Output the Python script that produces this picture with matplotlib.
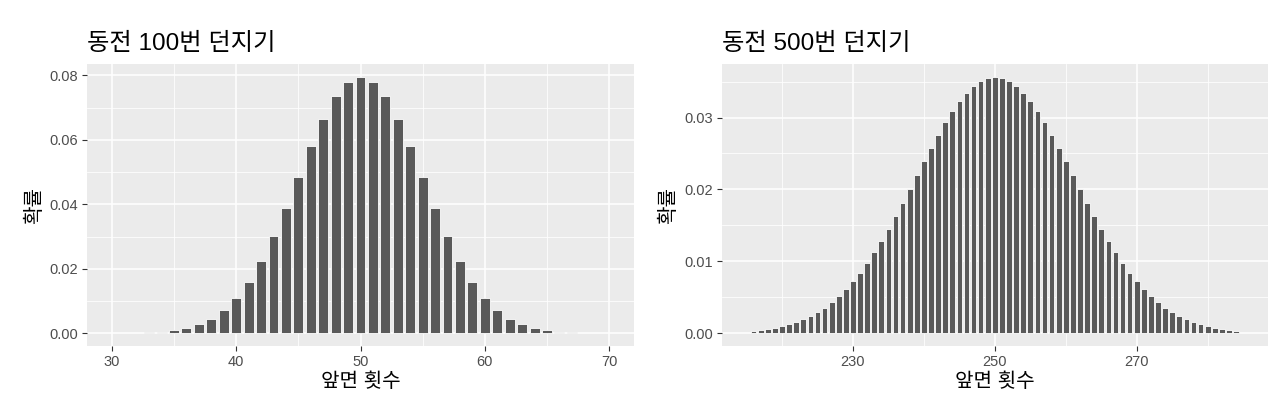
import matplotlib
matplotlib.use("Agg")
import matplotlib.pyplot as plt
from matplotlib.ticker import FixedLocator

plt.rcParams['font.family'] = ['Liberation Sans', 'Noto Sans CJK KR', 'DejaVu Sans']

# ---- data ----
heads_100 = list(range(33, 68))
prob_100 = [0.000232, 0.000458, 0.000864, 0.001560, 0.002698, 0.004472, 0.007111,
            0.010844, 0.015870, 0.022292, 0.030069, 0.038953, 0.048474, 0.057958,
            0.066590, 0.073527, 0.078029, 0.079589, 0.078029, 0.073527, 0.066590,
            0.057958, 0.048474, 0.038953, 0.030069, 0.022292, 0.015870, 0.010844,
            0.007111, 0.004472, 0.002698, 0.001560, 0.000864, 0.000458, 0.000232]

heads_500 = list(range(216, 285))
_upper_500 = [0.035664, 0.035522, 0.035099, 0.034405, 0.033457, 0.032276, 0.030889,
              0.029327, 0.027622, 0.025809, 0.023923, 0.021998, 0.020067, 0.018159,
              0.016302, 0.014518, 0.012826, 0.011241, 0.009773, 0.008429, 0.007211,
              0.006120, 0.005153, 0.004303, 0.003565, 0.002930, 0.002389, 0.001932,
              0.001550, 0.001233, 0.000973, 0.000762, 0.000592, 0.000456, 0.000348]
prob_500 = _upper_500[:0:-1] + _upper_500

titles = ["동전 100번 던지기", "동전 500번 던지기"]
xlabel = "앞면 횟수"
ylabel = "확률"

x_major = [[30, 40, 50, 60, 70], [230, 250, 270]]
x_minor = [[35, 45, 55, 65], [220, 240, 260, 280]]
y_major = [[0.00, 0.02, 0.04, 0.06, 0.08], [0.00, 0.01, 0.02, 0.03]]
y_minor = [[0.01, 0.03, 0.05, 0.07], [0.005, 0.015, 0.025, 0.035]]
x_limits = [(30, 70), (215, 285)]

# ---- figure ----
fig = plt.figure(figsize=(12.8, 4.0), dpi=100)
W, H = 1280, 400
panels = [(87, 634), (721.7, 1268)]
top, bottom = 64, 346

datasets = [(heads_100, prob_100), (heads_500, prob_500)]

for i, ((l, r), (xs, ys)) in enumerate(zip(panels, datasets)):
    ax = fig.add_axes([l / W, 1 - bottom / H, (r - l) / W, (bottom - top) / H])
    ax.set_facecolor('#EBEBEB')
    for s in ax.spines.values():
        s.set_visible(False)
    ax.bar(xs, ys, width=0.8, color='#595959', edgecolor='white', linewidth=0.6, zorder=3)

    lo, hi = x_limits[i]
    ex = 0.05 * (hi - lo)
    ax.set_xlim(lo - ex, hi + ex)
    ymax = max(ys)
    ax.set_ylim(-0.05 * ymax, ymax * 1.05)

    ax.xaxis.set_major_locator(FixedLocator(x_major[i]))
    ax.xaxis.set_minor_locator(FixedLocator(x_minor[i]))
    ax.yaxis.set_major_locator(FixedLocator(y_major[i]))
    ax.yaxis.set_minor_locator(FixedLocator(y_minor[i]))
    ax.set_xticklabels([str(v) for v in x_major[i]])
    ax.set_yticklabels([f"{v:.2f}" for v in y_major[i]])

    ax.grid(which='major', color='white', linewidth=1.1, zorder=1)
    ax.grid(which='minor', color='white', linewidth=0.55, zorder=1)
    ax.set_axisbelow(True)

    ax.tick_params(which='major', length=3.5, width=0.8, color='#333333',
                   labelsize=10.5, labelcolor='#4D4D4D', pad=3)
    ax.tick_params(which='minor', length=0)

    ax.set_xlabel(xlabel, fontsize=14.5, color='black', labelpad=2)
    ax.set_ylabel(ylabel, fontsize=14.5, color='black', labelpad=4)
    ax.set_title(titles[i], fontsize=17.5, loc='left', pad=10, color='black')

fig.savefig('out.png', dpi=100)
